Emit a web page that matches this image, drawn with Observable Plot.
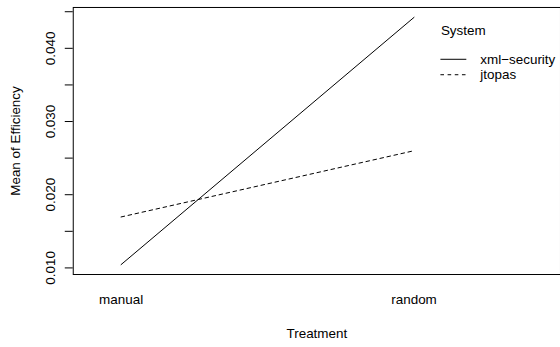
<!DOCTYPE html>
<html>
<head>
<meta charset="utf-8">
<script src="https://cdn.jsdelivr.net/npm/d3@7"></script>
<script src="https://cdn.jsdelivr.net/npm/@observablehq/plot@0.6"></script>
<style>
  html, body { margin: 0; padding: 0; background: #fff; overflow: hidden; }
  #chart svg { display: block; }
</style>
</head>
<body>
<div id="chart"></div>
<script>
// Interaction plot: mean efficiency by treatment, one line per system
const treatments = ["manual", "random"];
const systems = ["xml−security", "jtopas"];
const xmlSecurityMeans = [0.01045, 0.04423];
const jtopasMeans = [0.01696, 0.02601];
const seriesDash = ["none", "3.6,3.6"];

const yTicks = [0.010, 0.015, 0.020, 0.025, 0.030, 0.035, 0.040, 0.045];
const yTickLabels = ["0.010", "0.020", "0.030", "0.040"];

const xTitle = "Treatment";
const yTitle = "Mean of Efficiency";
const legendTitle = "System";

const seriesValues = [xmlSecurityMeans, jtopasMeans];
const rows = systems.flatMap((s, si) =>
  treatments.map((t, ti) => ({system: s, treatment: t, value: seriesValues[si][ti]}))
);

// y range padded by 4% of the data span on each side
const [lo, hi] = d3.extent(rows, d => d.value);
const pad = (hi - lo) * 0.04;

const font = "'Liberation Sans', Arial, Helvetica, sans-serif";

const chart = Plot.plot({
  width: 562,
  height: 347,
  marginLeft: 73,
  marginRight: 0,
  marginTop: 7,
  marginBottom: 72,
  style: {fontFamily: font, fontSize: "13.5px", color: "#000", background: "#fff", overflow: "visible"},
  x: {type: "point", domain: treatments, padding: 0, insetLeft: 48, insetRight: 147, label: null},
  y: {domain: [lo - pad, hi + pad], label: null},
  marks: [
    Plot.frame({stroke: "#000", strokeWidth: 1}),
    Plot.axisY({
      ticks: yTicks,
      tickSize: 8,
      tickPadding: 10,
      tickRotate: -90,
      stroke: "#000",
      strokeOpacity: 1,
      label: null,
      tickFormat: d => yTickLabels.find(s => Math.abs(+s - d) < 1e-9) ?? ""
    }),
    Plot.axisX({tickSize: 0, tickPadding: 20, label: null}),
    Plot.text([xTitle], {frameAnchor: "bottom", lineAnchor: "top", dy: 54, text: d => d}),
    Plot.text([yTitle], {frameAnchor: "left", rotate: -90, lineAnchor: "top", textAnchor: "middle", dx: -63, text: d => d}),
    ...systems.map((s, i) =>
      Plot.line(rows.filter(d => d.system === s), {
        x: "treatment",
        y: "value",
        stroke: "#000",
        strokeWidth: 1,
        strokeDasharray: seriesDash[i] === "none" ? null : seriesDash[i]
      })
    )
  ]
});

// Legend block in the right part of the panel
const svg = d3.select(chart);
const lg = svg.append("g")
  .attr("font-family", font)
  .attr("font-size", "13.5px")
  .attr("text-anchor", "start")
  .attr("fill", "#000");
lg.append("text").attr("x", 442.5).attr("y", 35).text(legendTitle);
systems.forEach((s, i) => {
  const yy = 59.5 + i * 15.5;
  lg.append("line")
    .attr("x1", 442).attr("x2", 468)
    .attr("y1", yy).attr("y2", yy)
    .attr("stroke", "#000").attr("stroke-width", 1)
    .attr("stroke-dasharray", seriesDash[i] === "none" ? null : seriesDash[i]);
  lg.append("text").attr("x", 482).attr("y", yy).attr("dy", "0.32em").text(s);
});

document.getElementById("chart").appendChild(chart);
</script>
</body>
</html>
